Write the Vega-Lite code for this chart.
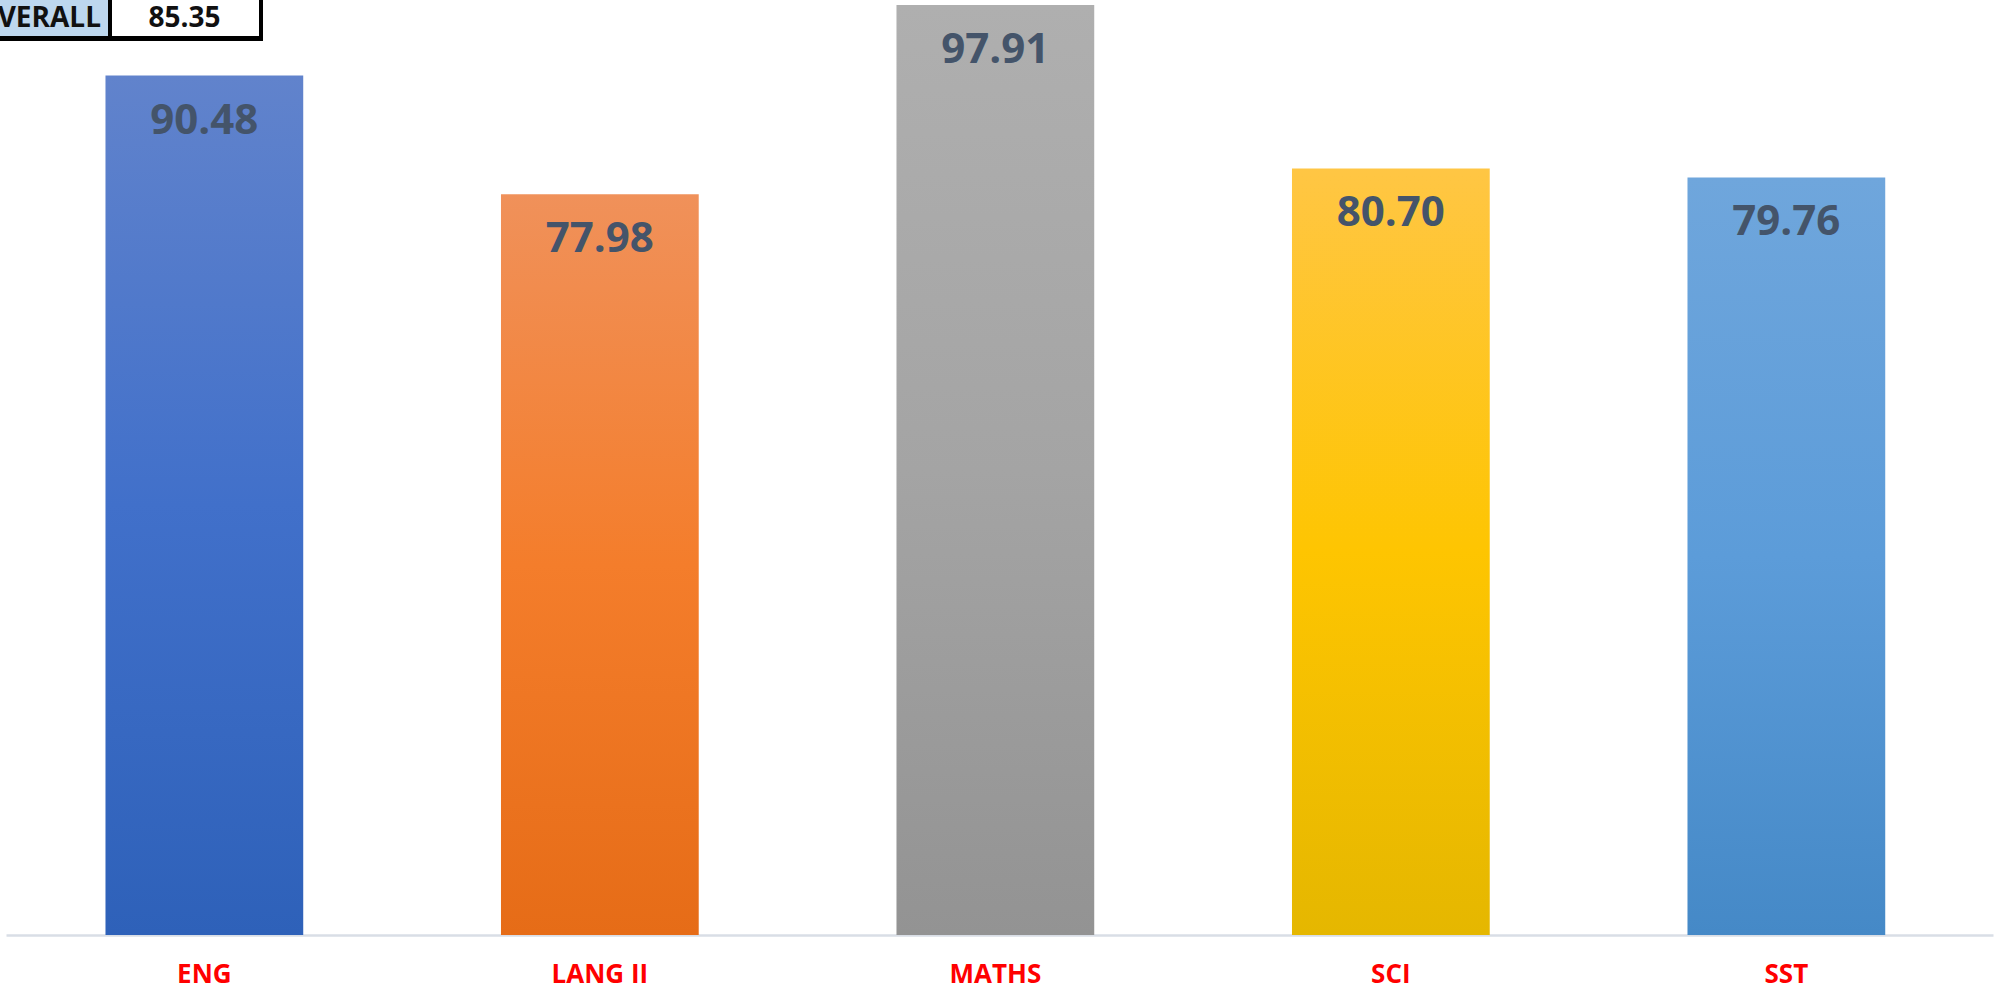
{
  "$schema": "https://vega.github.io/schema/vega-lite/v6.json",
  "width": 1987,
  "height": 935,
  "autosize": {"type": "none"},
  "padding": {"left": 6, "top": 0, "right": 2, "bottom": 55},
  "background": "white",
  "config": {"view": {"stroke": null}, "font": "Open Sans"},
  "datasets": {
    "scores": [
      {"subject": "ENG", "score": 90.48},
      {"subject": "LANG II", "score": 77.98},
      {"subject": "MATHS", "score": 97.91},
      {"subject": "SCI", "score": 80.70},
      {"subject": "SST", "score": 79.76}
    ],
    "overall": [{"label": "OVERALL", "value": 85.35}]
  },
  "layer": [
    {
      "data": {"name": "scores"},
      "encoding": {
        "x": {
          "field": "subject", "type": "nominal", "sort": null,
          "scale": {"paddingInner": 0.5, "paddingOuter": 0.262, "align": 0.48},
          "axis": {
            "title": null, "domainColor": "#D9DEE6", "domainWidth": 2.5,
            "ticks": false, "tickSize": 0, "labelPadding": 26,
            "labelColor": "#FF0000", "labelFontSize": 26, "labelFontWeight": "bold",
            "labelFont": "Open Sans", "labelAngle": 0
          }
        },
        "y": {
          "field": "score", "type": "quantitative",
          "scale": {"domain": [0, 98.44], "nice": false, "zero": true},
          "axis": null
        }
      },
      "layer": [
        {
          "transform": [{"filter": "datum.subject === 'ENG'"}],
          "mark": {"type": "bar", "fill": {"gradient": "linear", "x1": 0, "y1": 0, "x2": 0, "y2": 1,
            "stops": [{"offset": 0, "color": "#6183CC"}, {"offset": 0.5, "color": "#4170CA"}, {"offset": 1, "color": "#2E61B9"}]}}
        },
        {
          "transform": [{"filter": "datum.subject === 'LANG II'"}],
          "mark": {"type": "bar", "fill": {"gradient": "linear", "x1": 0, "y1": 0, "x2": 0, "y2": 1,
            "stops": [{"offset": 0, "color": "#F0915A"}, {"offset": 0.5, "color": "#F47D2B"}, {"offset": 1, "color": "#E66C17"}]}}
        },
        {
          "transform": [{"filter": "datum.subject === 'MATHS'"}],
          "mark": {"type": "bar", "fill": {"gradient": "linear", "x1": 0, "y1": 0, "x2": 0, "y2": 1,
            "stops": [{"offset": 0, "color": "#AFAFAF"}, {"offset": 0.5, "color": "#A4A4A4"}, {"offset": 1, "color": "#939393"}]}}
        },
        {
          "transform": [{"filter": "datum.subject === 'SCI'"}],
          "mark": {"type": "bar", "fill": {"gradient": "linear", "x1": 0, "y1": 0, "x2": 0, "y2": 1,
            "stops": [{"offset": 0, "color": "#FFC644"}, {"offset": 0.5, "color": "#FEC501"}, {"offset": 1, "color": "#E5B700"}]}}
        },
        {
          "transform": [{"filter": "datum.subject === 'SST'"}],
          "mark": {"type": "bar", "fill": {"gradient": "linear", "x1": 0, "y1": 0, "x2": 0, "y2": 1,
            "stops": [{"offset": 0, "color": "#6FA6DC"}, {"offset": 0.5, "color": "#5C9CD9"}, {"offset": 1, "color": "#4589C7"}]}}
        },
        {
          "mark": {"type": "text", "dy": 45, "fontSize": 42, "fontWeight": "bold", "color": "#44546A", "baseline": "middle", "font": "Open Sans"},
          "encoding": {"text": {"field": "score", "type": "quantitative", "format": ".2f"}}
        }
      ]
    },
    {
      "data": {"name": "overall"},
      "layer": [
        {
          "mark": {"type": "rect", "fill": "#000000"},
          "encoding": {
            "x": {"datum": -6, "type": "quantitative", "scale": {"domain": [0, 1987], "nice": false, "zero": false}, "axis": null},
            "x2": {"datum": 257},
            "y": {"datum": 0, "type": "quantitative", "scale": {"domain": [0, 935], "reverse": true, "nice": false, "zero": false}, "axis": null},
            "y2": {"datum": 41}
          }
        },
        {
          "mark": {"type": "rect", "fill": "#BDD7EE"},
          "encoding": {
            "x": {"datum": -6, "type": "quantitative"},
            "x2": {"datum": 102},
            "y": {"datum": 0, "type": "quantitative"},
            "y2": {"datum": 36}
          }
        },
        {
          "mark": {"type": "rect", "fill": "#FFFFFF"},
          "encoding": {
            "x": {"datum": 106, "type": "quantitative"},
            "x2": {"datum": 253},
            "y": {"datum": 0, "type": "quantitative"},
            "y2": {"datum": 36}
          }
        },
        {
          "mark": {"type": "text", "align": "right", "baseline": "middle", "fontSize": 28, "fontWeight": "bold", "color": "#111111", "font": "Open Sans"},
          "encoding": {
            "x": {"datum": 95, "type": "quantitative"},
            "y": {"datum": 18.6, "type": "quantitative"},
            "text": {"field": "label"}
          }
        },
        {
          "mark": {"type": "text", "align": "center", "baseline": "middle", "fontSize": 28, "fontWeight": "bold", "color": "#111111", "font": "Open Sans"},
          "encoding": {
            "x": {"datum": 178.5, "type": "quantitative"},
            "y": {"datum": 18.6, "type": "quantitative"},
            "text": {"field": "value", "type": "quantitative", "format": ".2f"}
          }
        }
      ]
    }
  ],
  "resolve": {"scale": {"x": "independent", "y": "independent"}}
}
